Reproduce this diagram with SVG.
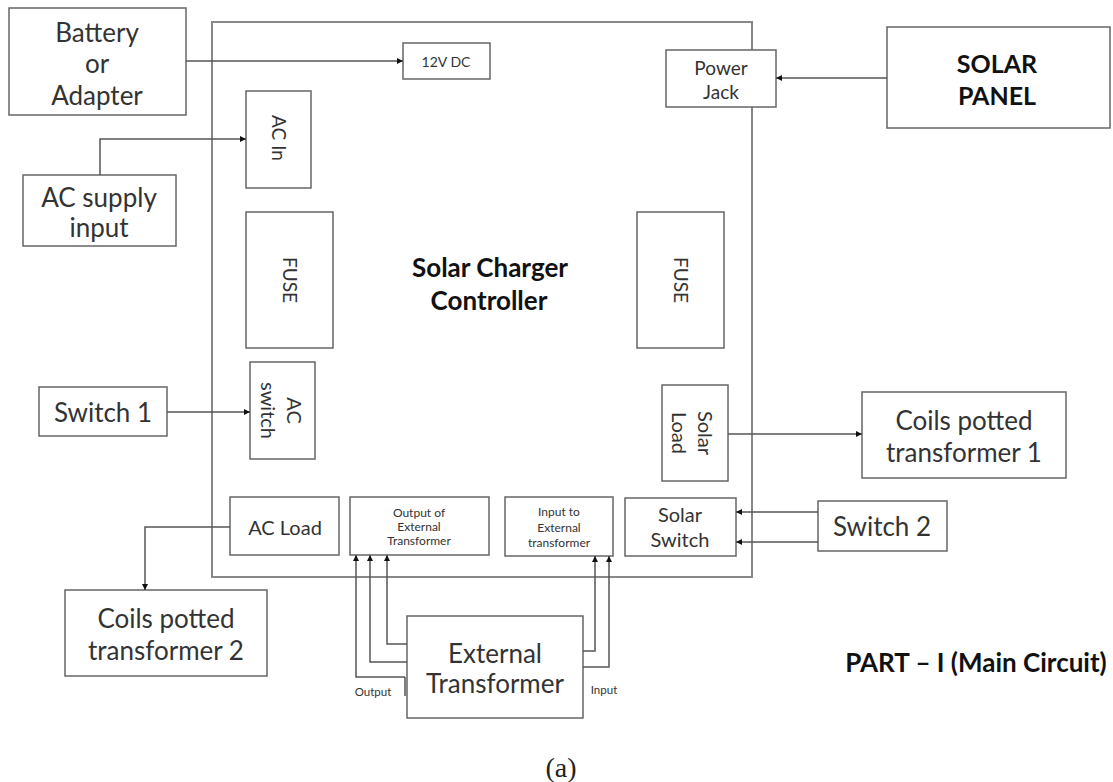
<svg xmlns="http://www.w3.org/2000/svg" width="1113" height="782" viewBox="0 0 1113 782">
<defs>
<style>
.box{fill:#fff;stroke:#666;stroke-width:1.5}
.frame{fill:none;stroke:#888;stroke-width:2}
.t{font-family:Lato,"Open Sans","Liberation Sans",sans-serif;fill:#333;text-anchor:middle;dominant-baseline:central}
.b{font-family:Lato,"Open Sans","Liberation Sans",sans-serif;fill:#111;font-weight:bold;text-anchor:middle;dominant-baseline:central}
.big{font-size:26px}
.c{fill:none;stroke:#555;stroke-width:1.5}
.ca{fill:none;stroke:#555;stroke-width:1.5;marker-end:url(#ah)}
</style>
<marker id="ah" viewBox="0 0 10 10" refX="10" refY="5" markerWidth="6" markerHeight="6" markerUnits="userSpaceOnUse" orient="auto">
<path d="M0,0 L10,5 L0,10 z" fill="#111"/>
</marker>
</defs>
<rect width="1113" height="782" fill="#fff"/>

<g id="controller">
<rect class="frame" x="212" y="22" width="540" height="555"/>
<text class="b" x="490" y="267" font-size="26">Solar Charger</text>
<text class="b" x="489" y="300" font-size="26">Controller</text>
</g>

<g id="battery">
<rect class="box" x="9" y="8" width="177" height="107"/>
<text class="t big" x="97" y="32">Battery</text>
<text class="t big" x="97" y="63">or</text>
<text class="t big" x="97" y="95">Adapter</text>
</g>

<g id="dc12">
<rect class="box" x="403" y="43" width="87" height="36"/>
<text class="t" x="446" y="61" font-size="14">12V DC</text>
</g>

<g id="powerjack">
<rect class="box" x="666" y="50" width="110" height="57"/>
<text class="t" x="721" y="67" font-size="19">Power</text>
<text class="t" x="721" y="91" font-size="19">Jack</text>
</g>

<g id="solarpanel">
<rect class="box" x="887" y="27" width="223" height="101"/>
<text class="b" x="997" y="63" font-size="25">SOLAR</text>
<text class="b" x="997" y="95" font-size="25">PANEL</text>
</g>

<g id="acin">
<rect class="box" x="246" y="91" width="65" height="97"/>
<text class="t" x="0" y="0" font-size="19" transform="translate(279,138) rotate(90)">AC In</text>
</g>

<g id="acsupply">
<rect class="box" x="23" y="175" width="153" height="71"/>
<text class="t big" x="99" y="197">AC supply</text>
<text class="t big" x="99" y="227">input</text>
</g>

<g id="fuse1">
<rect class="box" x="246" y="212" width="87" height="136"/>
<text class="t" x="0" y="0" font-size="19" transform="translate(290,280) rotate(90)">FUSE</text>
</g>

<g id="fuse2">
<rect class="box" x="637" y="212" width="87" height="136"/>
<text class="t" x="0" y="0" font-size="19" transform="translate(681,280) rotate(90)">FUSE</text>
</g>

<g id="acswitch">
<rect class="box" x="250" y="362" width="65" height="97"/>
<text class="t" x="0" y="0" font-size="20" transform="translate(295,410.5) rotate(90)">AC</text>
<text class="t" x="0" y="0" font-size="20" transform="translate(269,410.5) rotate(90)">switch</text>
</g>

<g id="switch1">
<rect class="box" x="39" y="387" width="128" height="49"/>
<text class="t big" x="103" y="412">Switch 1</text>
</g>

<g id="solarload">
<rect class="box" x="662" y="385" width="66" height="96"/>
<text class="t" x="0" y="0" font-size="20" transform="translate(706,433) rotate(90)">Solar</text>
<text class="t" x="0" y="0" font-size="20" transform="translate(680,433) rotate(90)">Load</text>
</g>

<g id="coils1">
<rect class="box" x="862" y="392" width="204" height="86"/>
<text class="t big" x="964" y="420">Coils potted</text>
<text class="t big" x="964" y="452">transformer 1</text>
</g>

<g id="acload">
<rect class="box" x="230" y="497" width="109" height="58"/>
<text class="t" x="285" y="527" font-size="20">AC Load</text>
</g>

<g id="outext">
<rect class="box" x="350" y="497" width="139" height="58"/>
<text class="t" x="419" y="512" font-size="12">Output of</text>
<text class="t" x="419" y="526" font-size="12">External</text>
<text class="t" x="419" y="540" font-size="12">Transformer</text>
</g>

<g id="inext">
<rect class="box" x="505" y="497" width="108" height="59"/>
<text class="t" x="559" y="511" font-size="12">Input to</text>
<text class="t" x="559" y="527" font-size="12">External</text>
<text class="t" x="559" y="542" font-size="12">transformer</text>
</g>

<g id="solarswitch">
<rect class="box" x="625" y="498" width="111" height="58"/>
<text class="t" x="680" y="514" font-size="20">Solar</text>
<text class="t" x="680" y="539" font-size="20">Switch</text>
</g>

<g id="switch2">
<rect class="box" x="818" y="501" width="129" height="50"/>
<text class="t big" x="882" y="526">Switch 2</text>
</g>

<g id="coils2">
<rect class="box" x="65" y="590" width="202" height="86"/>
<text class="t big" x="166" y="618">Coils potted</text>
<text class="t big" x="166" y="650">transformer 2</text>
</g>

<g id="exttrans">
<rect class="box" x="407" y="616" width="176" height="102"/>
<text class="t big" x="495" y="653">External</text>
<text class="t big" x="495" y="683">Transformer</text>
</g>

<g id="connectors">
<path class="ca" d="M186,61 H403"/>
<path class="ca" d="M100,175 V139 H246"/>
<path class="ca" d="M887,78 H776"/>
<path class="ca" d="M167,412 H250"/>
<path class="ca" d="M728,434 H862"/>
<path class="ca" d="M230,527 H145 V590"/>
<path class="ca" d="M818,512 H736"/>
<path class="ca" d="M818,542 H736"/>
<path class="ca" d="M407,644 H387 V555"/>
<path class="ca" d="M407,662 H370 V555"/>
<path class="ca" d="M405,677 H356 V555"/>
<path class="c" d="M405,677 V696"/>
<path class="ca" d="M583,651 H595 V556"/>
<path class="ca" d="M583,667 H609 V556"/>
<text class="t" x="373" y="691" font-size="11.5">Output</text>
<text class="t" x="604" y="689" font-size="11.5">Input</text>
</g>

<g id="labels">
<text class="b" x="976" y="662" font-size="26">PART – I (Main Circuit)</text>
<text x="561" y="767" font-family="'Liberation Serif',serif" font-size="28" fill="#222" text-anchor="middle" dominant-baseline="central">(a)</text>
</g>
</svg>
